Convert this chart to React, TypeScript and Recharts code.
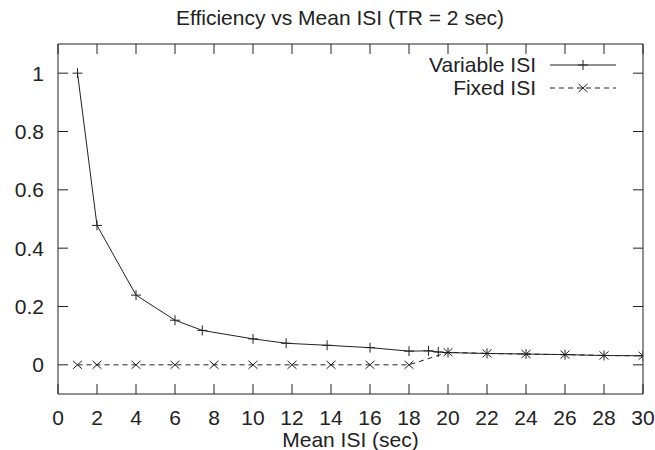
import React from 'react';
import { LineChart, Line, XAxis, YAxis } from 'recharts';

// values
const variableX = [1, 2, 4, 6, 7.4, 10, 11.7, 13.8, 16, 18, 19, 19.5, 20, 22, 24, 26, 28, 30];
const variableY = [1.0, 0.478, 0.239, 0.153, 0.118, 0.089, 0.074, 0.067, 0.059, 0.047, 0.048, 0.044, 0.042, 0.039, 0.037, 0.035, 0.032, 0.031];
const fixedX = [1, 2, 4, 6, 8, 10, 12, 14, 16, 18, 20, 22, 24, 26, 28, 30];
const fixedY = [0, 0, 0, 0, 0, 0, 0, 0, 0, 0, 0.043, 0.039, 0.037, 0.035, 0.032, 0.031];
const xTicks = [0, 2, 4, 6, 8, 10, 12, 14, 16, 18, 20, 22, 24, 26, 28, 30];
const yTicks = [0, 0.2, 0.4, 0.6, 0.8, 1];
const seriesNames = ['Variable ISI', 'Fixed ISI'];

const variableData = variableX.map((x, i) => ({ x, y: variableY[i] }));
const fixedData = fixedX.map((x, i) => ({ x, y: fixedY[i] }));

const INK = '#222';
const FONT = '"Liberation Sans", Arial, Helvetica, sans-serif';
const FS = 21;
const TICK = 10;

const PlusDot = (props: any) => {
  const { cx, cy } = props;
  if (cx == null || cy == null) return null;
  return (
    <g stroke={INK} strokeWidth={1}>
      <line x1={cx - 5} y1={cy} x2={cx + 5} y2={cy} />
      <line x1={cx} y1={cy - 5} x2={cx} y2={cy + 5} />
    </g>
  );
};

const CrossDot = (props: any) => {
  const { cx, cy } = props;
  if (cx == null || cy == null) return null;
  return (
    <g stroke={INK} strokeWidth={1}>
      <line x1={cx - 4.5} y1={cy - 4} x2={cx + 4.5} y2={cy + 4} />
      <line x1={cx - 4.5} y1={cy + 4} x2={cx + 4.5} y2={cy - 4} />
    </g>
  );
};

// gnuplot-style inward ticks on all four sides
const bottomTick = ({ x, y, payload }: any) => (
  <g>
    <path d={`M${x},${y}V${y - TICK}`} stroke={INK} strokeWidth={1} fill="none" />
    <text x={x} y={y + 31} textAnchor="middle" fill={INK} fontSize={FS} fontFamily={FONT}>{payload.value}</text>
  </g>
);
const topTick = ({ x, y }: any) => <path d={`M${x},${y}V${y + TICK}`} stroke={INK} strokeWidth={1} fill="none" />;
const leftTick = ({ x, y, payload }: any) => (
  <g>
    <path d={`M${x},${y}H${x + TICK}`} stroke={INK} strokeWidth={1} fill="none" />
    <text x={x - 14} y={y + 7.5} textAnchor="end" fill={INK} fontSize={FS} fontFamily={FONT}>{payload.value}</text>
  </g>
);
const rightTick = ({ x, y }: any) => <path d={`M${x},${y}H${x - TICK}`} stroke={INK} strokeWidth={1} fill="none" />;

function LegendRow({ name, dashed }: { name: string; dashed: boolean }) {
  return (
    <div style={{ display: 'flex', alignItems: 'center', justifyContent: 'flex-end', height: 23 }}>
      <span style={{ marginRight: 14 }}>{name}</span>
      <svg width={66} height={20}>
        <line x1={0} y1={10} x2={66} y2={10} stroke={INK} strokeWidth={1} strokeDasharray={dashed ? '5 4' : undefined} />
        {dashed ? <CrossDot cx={33} cy={10} /> : <PlusDot cx={33} cy={10} />}
      </svg>
    </div>
  );
}

export default function App() {
  return (
    <div style={{ position: 'absolute', left: 0, top: 0, width: 655, height: 450, background: '#fff', fontFamily: FONT, color: INK }}>
      <div style={{ position: 'absolute', left: 40, width: 600, top: 5, textAlign: 'center', fontSize: FS, lineHeight: '26px' }}>
        Efficiency vs Mean ISI (TR = 2 sec)
      </div>
      <LineChart width={655} height={450} margin={{ top: 34, right: 2, bottom: 0, left: 0 }}>
        <XAxis
          xAxisId="bottom"
          dataKey="x"
          type="number"
          domain={[0, 30]}
          ticks={xTicks}
          allowDataOverflow
          height={56}
          tickSize={0}
          tickMargin={0}
          tickLine={false}
          stroke={INK}
          tick={bottomTick}
          label={{ value: 'Mean ISI (sec)', position: 'insideBottom', offset: 3, fill: INK, fontSize: FS, fontFamily: FONT }}
        />
        <XAxis
          xAxisId="top"
          orientation="top"
          dataKey="x"
          type="number"
          domain={[0, 30]}
          ticks={xTicks}
          allowDataOverflow
          height={10}
          tickSize={0}
          tickMargin={0}
          tickLine={false}
          stroke={INK}
          tick={topTick}
        />
        <YAxis
          yAxisId="left"
          dataKey="y"
          type="number"
          domain={[-0.1, 1.1]}
          ticks={yTicks}
          allowDataOverflow
          width={58}
          tickSize={0}
          tickMargin={0}
          tickLine={false}
          stroke={INK}
          tick={leftTick}
        />
        <YAxis
          yAxisId="right"
          orientation="right"
          dataKey="y"
          type="number"
          domain={[-0.1, 1.1]}
          ticks={yTicks}
          allowDataOverflow
          width={10}
          tickSize={0}
          tickMargin={0}
          tickLine={false}
          stroke={INK}
          tick={rightTick}
        />
        <Line
          xAxisId="bottom"
          yAxisId="left"
          data={variableData}
          dataKey="y"
          name={seriesNames[0]}
          type="linear"
          stroke={INK}
          strokeWidth={1}
          dot={<PlusDot />}
          activeDot={false}
          isAnimationActive={false}
        />
        <Line
          xAxisId="bottom"
          yAxisId="left"
          data={fixedData}
          dataKey="y"
          name={seriesNames[1]}
          type="linear"
          stroke={INK}
          strokeWidth={1}
          strokeDasharray="5 4"
          dot={<CrossDot />}
          activeDot={false}
          isAnimationActive={false}
        />
        {/* invisible series so the mirrored top/right axes get drawn */}
        <Line
          xAxisId="top"
          yAxisId="right"
          data={fixedData}
          dataKey="y"
          stroke="none"
          dot={false}
          activeDot={false}
          legendType="none"
          isAnimationActive={false}
        />
      </LineChart>
      <div style={{ position: 'absolute', right: 39, top: 53, fontSize: FS }}>
        <LegendRow name={seriesNames[0]} dashed={false} />
        <LegendRow name={seriesNames[1]} dashed={true} />
      </div>
    </div>
  );
}
